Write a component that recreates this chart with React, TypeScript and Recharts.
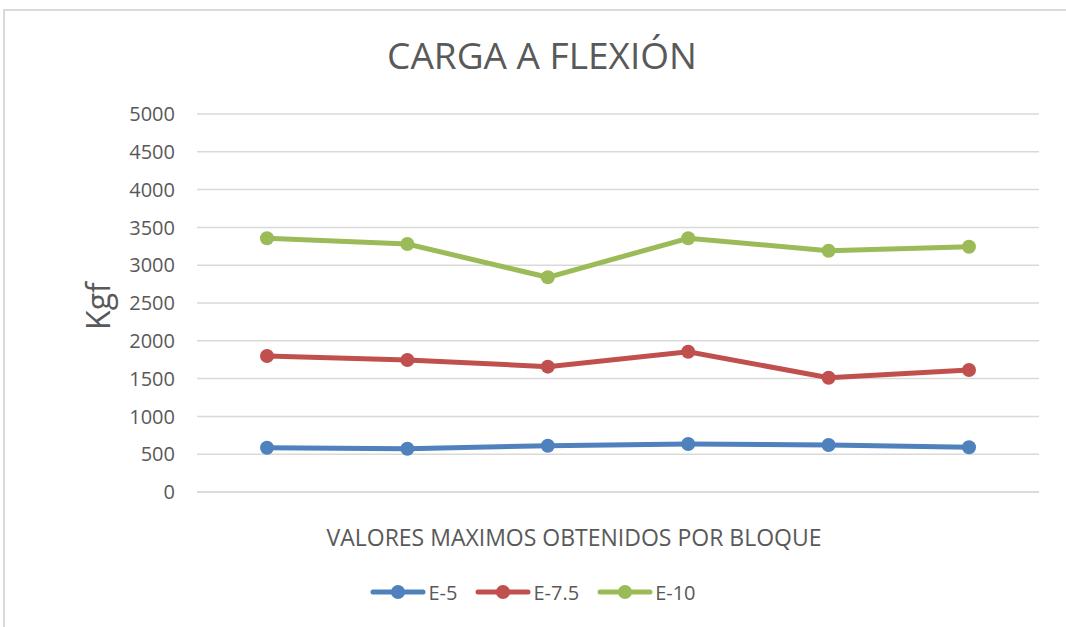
import React from 'react';
import { LineChart, Line, XAxis, YAxis, CartesianGrid, Legend } from 'recharts';

const categories = ['B1', 'B2', 'B3', 'B4', 'B5', 'B6'];
const e5Values = [586, 573, 612, 635, 622, 591];
const e75Values = [1799, 1746, 1658, 1856, 1512, 1614];
const e10Values = [3356, 3280, 2840, 3356, 3192, 3245];
const yTicks = [0, 500, 1000, 1500, 2000, 2500, 3000, 3500, 4000, 4500, 5000];
const seriesNames = ['E-5', 'E-7.5', 'E-10'];
const seriesKeys = ['e5', 'e75', 'e10'];
const seriesColors = ['#4F81BD', '#C0504D', '#9BBB59'];

const data = categories.map((c, i) => ({
  cat: c,
  e5: e5Values[i],
  e75: e75Values[i],
  e10: e10Values[i],
}));

const FONT = '"Open Sans", "Liberation Sans", sans-serif';
const TEXT = '#595959';

const LegendContent = () => (
  <div
    style={{
      display: 'flex',
      justifyContent: 'center',
      alignItems: 'center',
      height: 40,
      fontFamily: FONT,
      fontSize: 20,
      color: TEXT,
    }}
  >
    {seriesNames.map((n, i) => (
      <div key={n} style={{ display: 'flex', alignItems: 'center', marginRight: i < seriesNames.length - 1 ? 18 : 0 }}>
        <svg width={56} height={18} style={{ marginRight: 2 }}>
          <line x1={3} x2={53} y1={9} y2={9} stroke={seriesColors[i]} strokeWidth={5} strokeLinecap="round" />
          <circle cx={28} cy={9} r={7} fill={seriesColors[i]} />
        </svg>
        <span>{n}</span>
      </div>
    ))}
  </div>
);

const YLabel = (props: any) => {
  const vb = props.viewBox || {};
  const cx = vb.x - 40;
  const cy = vb.y + vb.height / 2 + 3;
  return (
    <text
      x={cx}
      y={cy}
      transform={`rotate(-90, ${cx}, ${cy})`}
      textAnchor="middle"
      dominantBaseline="central"
      fill={TEXT}
      fontFamily={FONT}
      fontSize={32}
    >
      Kgf
    </text>
  );
};

const XLabel = (props: any) => {
  const vb = props.viewBox || {};
  const cx = vb.x + vb.width / 2 - 44;
  const cy = vb.y + 45;
  return (
    <text x={cx} y={cy} textAnchor="middle" dominantBaseline="central" fill={TEXT} fontFamily={FONT} fontSize={23}>
      VALORES MAXIMOS OBTENIDOS POR BLOQUE
    </text>
  );
};

export default function App() {
  return (
    <div
      style={{
        position: 'absolute',
        left: 0,
        top: 0,
        width: 1066,
        height: 627,
        overflow: 'hidden',
        background: '#ffffff',
      }}
    >
      <div
        style={{
          position: 'absolute',
          left: 3,
          top: 9,
          width: 1200,
          height: 800,
          border: '2px solid #d9d9d9',
          boxSizing: 'border-box',
        }}
      />
      <div
        style={{
          position: 'absolute',
          left: 0,
          width: 1084,
          top: 30,
          textAlign: 'center',
          fontFamily: FONT,
          fontSize: 37,
          color: TEXT,
          lineHeight: '50px',
        }}
      >
        CARGA A FLEXIÓN
      </div>
      <div style={{ position: 'absolute', left: 0, top: 0 }}>
        <LineChart width={1066} height={627} data={data} margin={{ top: 114, right: 27, bottom: 15, left: 137 }}>
          <CartesianGrid vertical={false} stroke="#d9d9d9" strokeWidth={1.5} />
          <XAxis
            dataKey="cat"
            tick={false}
            tickLine={false}
            axisLine={{ stroke: '#d9d9d9', strokeWidth: 1.5 }}
            height={80}
            padding={{ left: 70, right: 70 }}
            label={<XLabel />}
          />
          <YAxis
            domain={[0, 5000]}
            ticks={yTicks}
            width={60}
            axisLine={false}
            tickLine={false}
            tickSize={0}
            tickMargin={22}
            tick={{ fill: TEXT, fontSize: 20, fontFamily: FONT }}
            label={<YLabel />}
          />
          <Legend
            verticalAlign="bottom"
            height={40}
            wrapperStyle={{ left: 0, width: 1066 }}
            content={<LegendContent />}
          />
          {seriesKeys.map((k, i) => (
            <Line
              key={k}
              type="linear"
              dataKey={k}
              name={seriesNames[i]}
              stroke={seriesColors[i]}
              strokeWidth={5}
              dot={{ r: 7, fill: seriesColors[i], stroke: seriesColors[i], strokeWidth: 0 }}
              activeDot={false}
              isAnimationActive={false}
            />
          ))}
        </LineChart>
      </div>
    </div>
  );
}
